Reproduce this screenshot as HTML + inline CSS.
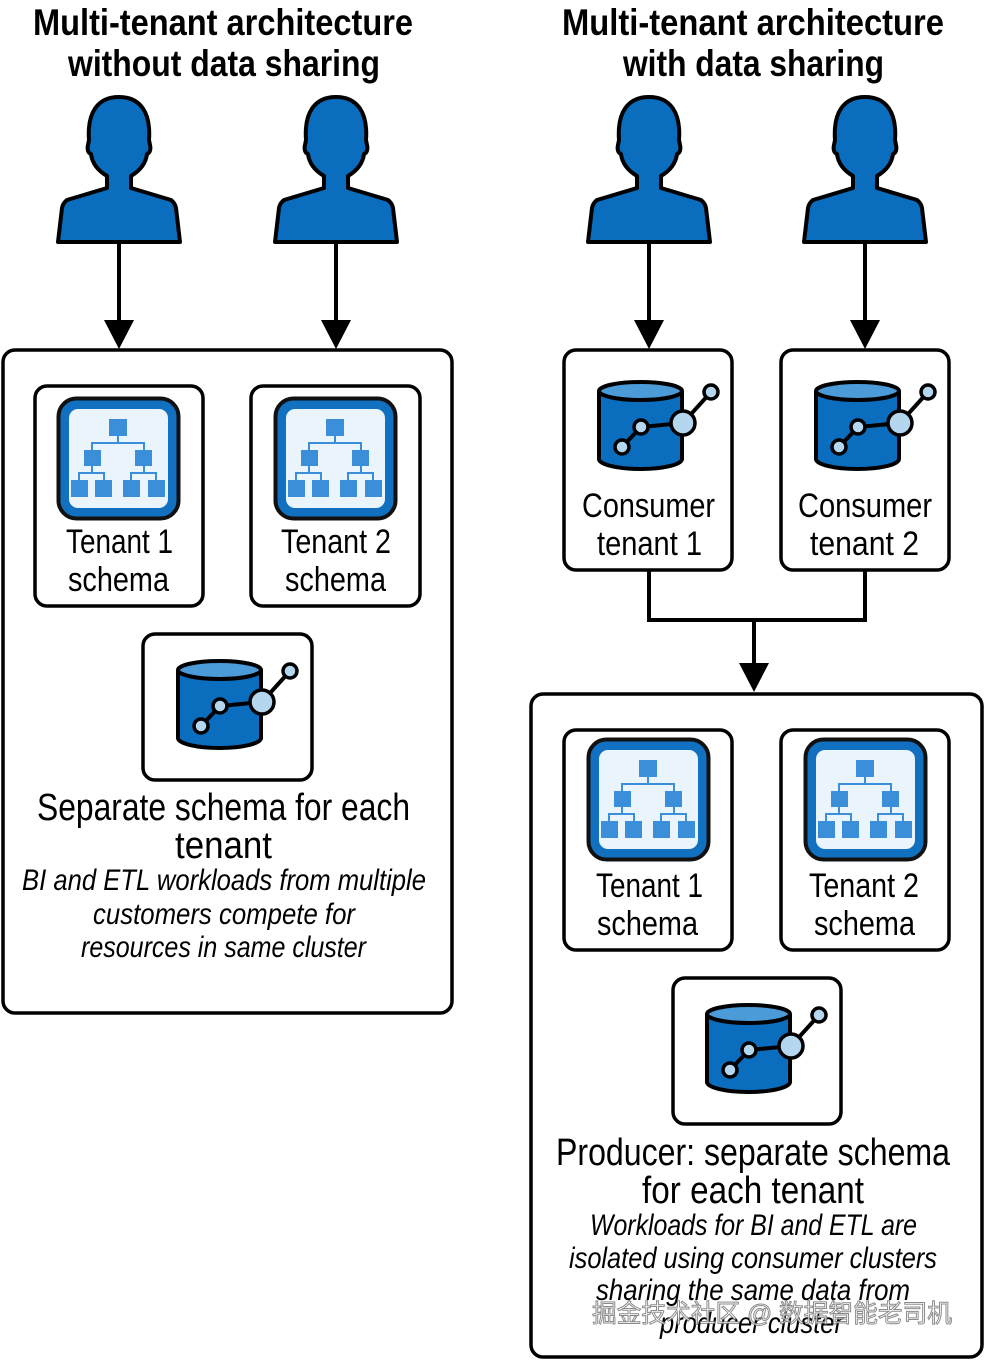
<!DOCTYPE html>
<html><head><meta charset="utf-8"><style>
html,body{margin:0;padding:0;background:#fff;}
svg{display:block;}
text{font-family:"Liberation Sans",sans-serif;fill:#000;}
.i{font-style:italic;}
.t{font-weight:bold;}
</style></head><body>
<svg width="984" height="1360" viewBox="0 0 984 1360" xmlns="http://www.w3.org/2000/svg">
<defs>
<g id="person">
<path d="M -12,176 L -12,188 L -52,200 Q -56,203 -57,208 L -61,242 L 61,242 L 57,208 Q 56,203 52,200 L 12,188 L 12,176 C 22,170 27,162 28,154 C 31,153 32,149 31,145 L 30,140 C 32,112 21,97 0,97 C -21,97 -32,112 -30,140 L -31,145 C -32,149 -31,153 -28,154 C -27,162 -22,170 -12,176 Z" fill="#0a6dbd" stroke="#000" stroke-width="4" stroke-linejoin="round"/>
</g>
<g id="schema">
<rect x="1.5" y="1.5" width="120" height="120" rx="18" fill="#1170c0" stroke="#111" stroke-width="4"/>
<rect x="12" y="12" width="99" height="99" rx="9" fill="#eaf4fc"/>
<g fill="#3a8fd8">
<rect x="52" y="22" width="18" height="17"/>
<rect x="27" y="53" width="17" height="16"/><rect x="78" y="53" width="17" height="16"/>
<rect x="14" y="83" width="17" height="17"/><rect x="38" y="83" width="17" height="17"/>
<rect x="66" y="83" width="17" height="17"/><rect x="91" y="83" width="17" height="17"/>
</g>
<g stroke="#3a8fd8" stroke-width="2" fill="none">
<path d="M61,39 V46 M35,53 V46 H87 V53 M35,69 V76 M22,83 V76 H47 V83 M87,69 V76 M74,83 V76 H99 V83"/>
</g>
</g>
<g id="db">
<path d="M35,42 V110 A41.5,10 0 0 0 118,110 V42" fill="#0a6dbd" stroke="#000" stroke-width="4"/>
<ellipse cx="76.5" cy="42" rx="41.5" ry="9" fill="#4a9bd8" stroke="#000" stroke-width="4"/>
<path d="M58,98 L77,78 L119,74 L147,43" stroke="#000" stroke-width="4" fill="none"/>
<circle cx="58" cy="98" r="7" fill="#b5d6ef" stroke="#000" stroke-width="3.5"/>
<circle cx="77" cy="78" r="7" fill="#b5d6ef" stroke="#000" stroke-width="3.5"/>
<circle cx="119" cy="74" r="12" fill="#b5d6ef" stroke="#000" stroke-width="3.5"/>
<circle cx="147" cy="43" r="7" fill="#b5d6ef" stroke="#000" stroke-width="3.5"/>
</g>
<g id="arrowhead"><path d="M-15,-29 L15,-29 L0,0 Z" fill="#000"/></g>
</defs>

<text class="t" x="33" y="35" font-size="37" textLength="380" lengthAdjust="spacingAndGlyphs">Multi-tenant architecture</text>
<text class="t" x="68" y="76" font-size="37" textLength="312" lengthAdjust="spacingAndGlyphs">without data sharing</text>
<text class="t" x="562" y="35" font-size="37" textLength="382" lengthAdjust="spacingAndGlyphs">Multi-tenant architecture</text>
<text class="t" x="623" y="76" font-size="37" textLength="261" lengthAdjust="spacingAndGlyphs">with data sharing</text>

<use href="#person" x="119" y="0"/>
<use href="#person" x="336" y="0"/>
<use href="#person" x="649" y="0"/>
<use href="#person" x="865" y="0"/>

<g stroke="#000" stroke-width="4">
<line x1="119" y1="242" x2="119" y2="322"/>
<line x1="336" y1="242" x2="336" y2="322"/>
<line x1="649" y1="242" x2="649" y2="322"/>
<line x1="865" y1="242" x2="865" y2="322"/>
</g>
<use href="#arrowhead" x="119" y="349"/>
<use href="#arrowhead" x="336" y="349"/>
<use href="#arrowhead" x="649" y="349"/>
<use href="#arrowhead" x="865" y="349"/>

<rect x="3" y="350" width="449" height="663" rx="12" fill="none" stroke="#000" stroke-width="3.5"/>
<rect x="35" y="386" width="168" height="220" rx="12" fill="none" stroke="#000" stroke-width="3.5"/>
<rect x="251" y="386" width="169" height="220" rx="12" fill="none" stroke="#000" stroke-width="3.5"/>
<use href="#schema" x="57" y="397"/>
<use href="#schema" x="274" y="397"/>
<text x="66" y="553" font-size="34" textLength="107" lengthAdjust="spacingAndGlyphs">Tenant 1</text>
<text x="68" y="591" font-size="34" textLength="101" lengthAdjust="spacingAndGlyphs">schema</text>
<text x="281" y="553" font-size="34" textLength="110" lengthAdjust="spacingAndGlyphs">Tenant 2</text>
<text x="285" y="591" font-size="34" textLength="101" lengthAdjust="spacingAndGlyphs">schema</text>
<rect x="143" y="634" width="169" height="146" rx="12" fill="none" stroke="#000" stroke-width="3.5"/>
<use href="#db" x="143" y="628"/>
<text x="37" y="820" font-size="38" textLength="373" lengthAdjust="spacingAndGlyphs">Separate schema for each</text>
<text x="175" y="858" font-size="38" textLength="97" lengthAdjust="spacingAndGlyphs">tenant</text>
<text class="i" x="22" y="890" font-size="30" textLength="404" lengthAdjust="spacingAndGlyphs">BI and ETL workloads from multiple</text>
<text class="i" x="93" y="924" font-size="30" textLength="262" lengthAdjust="spacingAndGlyphs">customers compete for</text>
<text class="i" x="81" y="957" font-size="30" textLength="285" lengthAdjust="spacingAndGlyphs">resources in same cluster</text>

<rect x="564" y="350" width="168" height="220" rx="12" fill="none" stroke="#000" stroke-width="3.5"/>
<rect x="781" y="350" width="168" height="220" rx="12" fill="none" stroke="#000" stroke-width="3.5"/>
<use href="#db" x="564" y="349"/>
<use href="#db" x="781" y="349"/>
<text x="582" y="517" font-size="34" textLength="133" lengthAdjust="spacingAndGlyphs">Consumer</text>
<text x="597" y="555" font-size="34" textLength="105" lengthAdjust="spacingAndGlyphs">tenant 1</text>
<text x="798" y="517" font-size="34" textLength="134" lengthAdjust="spacingAndGlyphs">Consumer</text>
<text x="810" y="555" font-size="34" textLength="109" lengthAdjust="spacingAndGlyphs">tenant 2</text>
<path d="M649,570 V620 H865 V570 M754,620 V665" stroke="#000" stroke-width="4" fill="none"/>
<use href="#arrowhead" x="754" y="692"/>

<rect x="531" y="694" width="451" height="663" rx="12" fill="none" stroke="#000" stroke-width="3.5"/>
<rect x="564" y="730" width="168" height="220" rx="12" fill="none" stroke="#000" stroke-width="3.5"/>
<rect x="781" y="730" width="168" height="220" rx="12" fill="none" stroke="#000" stroke-width="3.5"/>
<use href="#schema" x="587" y="738"/>
<use href="#schema" x="804" y="738"/>
<text x="596" y="897" font-size="34" textLength="107" lengthAdjust="spacingAndGlyphs">Tenant 1</text>
<text x="597" y="935" font-size="34" textLength="101" lengthAdjust="spacingAndGlyphs">schema</text>
<text x="809" y="897" font-size="34" textLength="110" lengthAdjust="spacingAndGlyphs">Tenant 2</text>
<text x="814" y="935" font-size="34" textLength="101" lengthAdjust="spacingAndGlyphs">schema</text>
<rect x="673" y="978" width="168" height="146" rx="12" fill="none" stroke="#000" stroke-width="3.5"/>
<use href="#db" x="672" y="972"/>
<text x="556" y="1165" font-size="38" textLength="394" lengthAdjust="spacingAndGlyphs">Producer: separate schema</text>
<text x="642" y="1203" font-size="38" textLength="222" lengthAdjust="spacingAndGlyphs">for each tenant</text>
<text class="i" x="590" y="1235" font-size="30" textLength="327" lengthAdjust="spacingAndGlyphs">Workloads for BI and ETL are</text>
<text class="i" x="569" y="1268" font-size="30" textLength="368" lengthAdjust="spacingAndGlyphs">isolated using consumer clusters</text>
<text class="i" x="596" y="1300" font-size="30" textLength="314" lengthAdjust="spacingAndGlyphs">sharing the same data from</text>
<text class="i" x="660" y="1333" font-size="30" textLength="183" lengthAdjust="spacingAndGlyphs">producer cluster</text>
<text x="592" y="1322" font-size="25" textLength="360" lengthAdjust="spacingAndGlyphs" style="font-family:'Liberation Sans','Noto Sans CJK SC',sans-serif;fill:#fff;stroke:#777;stroke-width:1;opacity:0.85">掘金技术社区 @ 数据智能老司机</text>
</svg>
</body></html>
